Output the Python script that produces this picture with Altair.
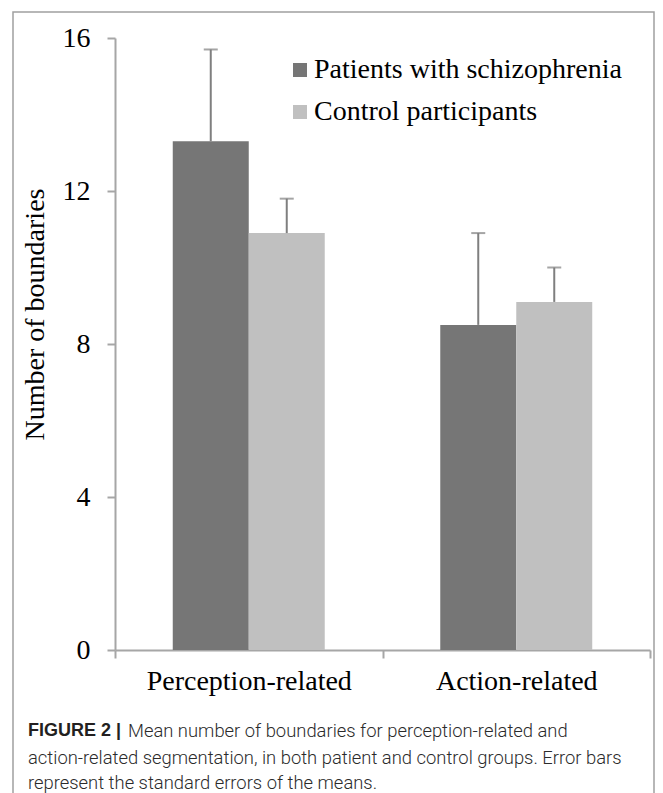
import altair as alt
import pandas as pd

categories = ["Perception-related", "Action-related"]
groups = ["Patients with schizophrenia", "Control participants"]
means_patients = [13.3, 8.5]
means_controls = [10.9, 9.1]
se_patients = [2.4, 2.4]
se_controls = [0.9, 0.9]
bar_colors = ["#767676", "#c0c0c0"]

caption_bold = "FIGURE 2 |"
caption_lines = [
    "Mean number of boundaries for perception-related and",
    "action-related segmentation, in both patient and control groups. Error bars",
    "represent the standard errors of the means.",
]

rows = []
for i, c in enumerate(categories):
    rows.append({"cat": c, "grp": groups[0], "mean": means_patients[i], "top": means_patients[i] + se_patients[i]})
    rows.append({"cat": c, "grp": groups[1], "mean": means_controls[i], "top": means_controls[i] + se_controls[i]})
df = pd.DataFrame(rows)

SERIF = "Liberation Serif"
FS = 28
AX = "#a6a6a6"

x_enc = alt.X("cat:N", sort=categories, title=None,
              scale=alt.Scale(paddingInner=0, paddingOuter=0),
              axis=alt.Axis(labelAngle=0, tickBand="extent", tickSize=8, tickWidth=2,
                            tickColor=AX, domainColor=AX, domainWidth=2,
                            labelFont=SERIF, labelFontSize=FS, labelColor="#000000",
                            labelPadding=9, labelLimit=400))
xo_enc = alt.XOffset("grp:N", sort=groups,
                     scale=alt.Scale(paddingInner=0, paddingOuter=0.76))
y_scale = alt.Scale(domain=[0, 16], nice=False)

bars = alt.Chart(df).mark_bar().encode(
    x=x_enc,
    xOffset=xo_enc,
    y=alt.Y("mean:Q", scale=y_scale, title="Number of boundaries",
            axis=alt.Axis(values=[0, 4, 8, 12, 16], grid=False, tickSize=8, tickWidth=2,
                          tickColor=AX, domainColor=AX, domainWidth=2,
                          labelFont=SERIF, labelFontSize=FS, labelColor="#000000",
                          labelPadding=17,
                          titleFont=SERIF, titleFontSize=FS, titleFontWeight="normal",
                          titleColor="#000000", titleAngle=270, titleBaseline="middle",
                          titleAlign="center", titleX=-80, titleY=276)),
    color=alt.Color("grp:N", sort=groups,
                    scale=alt.Scale(domain=groups, range=bar_colors),
                    legend=alt.Legend(title=None, orient="none", legendX=171, legendY=18,
                                      symbolType="square", symbolSize=196, symbolStrokeWidth=0,
                                      labelFont=SERIF, labelFontSize=FS, labelColor="#000000",
                                      labelOffset=0, rowPadding=14, padding=0,
                                      labelLimit=400)),
)

err = alt.Chart(df).mark_rule(color="#7f7f7f", strokeWidth=2).encode(
    x=alt.X("cat:N", sort=categories),
    xOffset=xo_enc,
    y=alt.Y("mean:Q", scale=y_scale),
    y2="top:Q",
)

caps = alt.Chart(df).mark_tick(color="#7f7f7f", thickness=2, size=14, orient="horizontal").encode(
    x=alt.X("cat:N", sort=categories),
    xOffset=xo_enc,
    y=alt.Y("top:Q", scale=y_scale),
)

one = alt.Data(values=[{"k": 1}])

frame = alt.Chart(one).mark_rect(filled=False, stroke="#a0a0a0", strokeWidth=1.5).encode(
    x=alt.value(-102), x2=alt.value(539), y=alt.value(-26), y2=alt.value(770)
)

cap_font = "Roboto"
CAP_SIZE = 18.4
CAP_COLOR = "#2b2b2b"
cap_bold = alt.Chart(one).mark_text(
    text=caption_bold, font="Liberation Sans", fontWeight="bold", fontSize=18,
    color="#231f20", align="left", baseline="middle"
).encode(x=alt.value(-87), y=alt.value(693))

cap_l1 = alt.Chart(one).mark_text(
    text=caption_lines[0], font=cap_font, fontWeight=300, fontSize=CAP_SIZE,
    color=CAP_COLOR, align="left", baseline="middle"
).encode(x=alt.value(13), y=alt.value(693))
cap_l2 = alt.Chart(one).mark_text(
    text=caption_lines[1], font=cap_font, fontWeight=300, fontSize=CAP_SIZE,
    color=CAP_COLOR, align="left", baseline="middle"
).encode(x=alt.value(-87), y=alt.value(720))
cap_l3 = alt.Chart(one).mark_text(
    text=caption_lines[2], font=cap_font, fontWeight=300, fontSize=CAP_SIZE,
    color=CAP_COLOR, align="left", baseline="middle"
).encode(x=alt.value(-87), y=alt.value(745))

chart = alt.layer(bars, err, caps, frame, cap_bold, cap_l1, cap_l2, cap_l3).properties(
    width=535, height=612,
    autosize=alt.AutoSizeParams(type="none"),
    padding={"left": 107, "top": 30, "right": 5, "bottom": 143},
    background="#ffffff",
).configure_view(stroke=None)

chart.save("out.html", embed_options={"renderer": "svg", "actions": False})
